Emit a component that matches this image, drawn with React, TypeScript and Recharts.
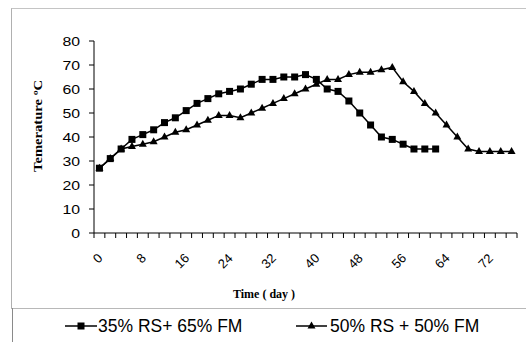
import React from "react";
import { LineChart, Line, XAxis, YAxis, Label } from "recharts";

const days = [0, 2, 4, 6, 8, 10, 12, 14, 16, 18, 20, 22, 24, 26, 28, 30, 32, 34, 36, 38, 40, 42, 44, 46, 48, 50, 52, 54, 56, 58, 60, 62, 64, 66, 68, 70, 72, 74, 76];
const rs35 = [27, 31, 35, 39, 41, 43, 46, 48, 51, 54, 56, 58, 59, 60, 62, 64, 64, 65, 65, 66, 64, 60, 59, 55, 50, 45, 40, 39, 37, 35, 35, 35];
const rs50 = [27, 31, 35, 36, 37, 38, 40, 42, 43, 45, 47, 49, 49, 48, 50, 52, 54, 56, 58, 60, 62, 64, 64, 66, 67, 67, 68, 69, 63, 59, 54, 50, 45, 40, 35, 34, 34, 34, 34];
const labelDays = [0, 8, 16, 24, 32, 40, 48, 56, 64, 72];
const boundaryDays = [-1, 1, 3, 5, 7, 9, 11, 13, 15, 17, 19, 21, 23, 25, 27, 29, 31, 33, 35, 37, 39, 41, 43, 45, 47, 49, 51, 53, 55, 57, 59, 61, 63, 65, 67, 69, 71, 73, 75, 77];
const yTicks = [0, 10, 20, 30, 40, 50, 60, 70, 80];
const name35 = "35% RS+ 65% FM";
const name50 = "50% RS + 50% FM";

const data = days.map((d, i) => ({
  day: d,
  a: i < rs35.length ? rs35[i] : null,
  b: i < rs50.length ? rs50[i] : null,
}));

const xTicks = [...boundaryDays, ...labelDays].sort((p, q) => p - q);

const AX_FONT = "Arial, 'Liberation Sans', sans-serif";
const TITLE_FONT = "'Times New Roman', 'Liberation Serif', serif";

const XTick = (props: any) => {
  const { x, y, payload } = props;
  const v = payload.value;
  if (Math.abs(v % 2) === 1) {
    return <line x1={x} y1={y} x2={x} y2={y + 5} stroke="#000" strokeWidth={1} />;
  }
  return (
    <text
      x={x + 4}
      y={y + 26}
      textAnchor="end"
      transform={`rotate(-45 ${x + 4} ${y + 26})`}
      fontFamily={AX_FONT}
      fontSize={13}
      fill="#000"
    >
      {v}
    </text>
  );
};

const YTick = (props: any) => {
  const { x, y, payload } = props;
  const s = String(payload.value);
  return (
    <text
      x={x}
      y={y}
      dy={4.5}
      textAnchor="end"
      fontFamily={AX_FONT}
      fontSize={13}
      fill="#000"
      textLength={s.length * 8.8}
      lengthAdjust="spacingAndGlyphs"
    >
      {s}
    </text>
  );
};

const SquareDot = (props: any) => {
  const { cx, cy, index } = props;
  if (cx == null || cy == null) return <g key={`s${index}`} />;
  return <rect key={`s${index}`} x={cx - 3.5} y={cy - 3.5} width={7} height={7} fill="#000" />;
};

const TriDot = (props: any) => {
  const { cx, cy, index } = props;
  if (cx == null || cy == null) return <g key={`t${index}`} />;
  return (
    <polygon
      key={`t${index}`}
      points={`${cx},${cy - 4.5} ${cx + 4},${cy + 2.5} ${cx - 4},${cy + 2.5}`}
      fill="#000"
    />
  );
};

const LegendBox = () => (
  <svg width={526} height={36} style={{ position: "absolute", left: 0, top: 308 }}>
    <line x1={65} y1={18} x2={97} y2={18} stroke="#000" strokeWidth={1.5} />
    <rect x={77.5} y={14.5} width={7} height={7} fill="#000" />
    <text x={98} y={24} fontFamily={AX_FONT} fontSize={17.5} fill="#000">{name35}</text>
    <line x1={296} y1={18} x2={327} y2={18} stroke="#000" strokeWidth={1.5} />
    <polygon points="311.5,13.5 315.5,20.5 307.5,20.5" fill="#000" />
    <text x={330} y={24} fontFamily={AX_FONT} fontSize={17.5} fill="#000">{name50}</text>
  </svg>
);

export default function App() {
  return (
    <div style={{ position: "absolute", left: 0, top: 0, width: 526, height: 342, background: "#fff", overflow: "hidden" }}>
      <div style={{ position: "absolute", left: 11, top: 8, width: 600, height: 299, borderTop: "1px solid #c4c4c4", borderLeft: "1px solid #b0b0b0", borderBottom: "1px solid #b8b8b8" }} />
      <div style={{ position: "absolute", left: 12, top: 308, width: 1, height: 40, background: "#8a8a8a" }} />
      <LegendBox />
      <div style={{ position: "absolute", left: 0, top: 0 }}>
        <LineChart width={526} height={342} data={data} margin={{ top: 41, right: 9, left: 0, bottom: 0 }}>
          <XAxis
            dataKey="day"
            type="number"
            domain={[-1, 77]}
            ticks={xTicks}
            interval={0}
            tickLine={false}
            tickSize={0}
            tickMargin={0}
            tick={<XTick />}
            axisLine={{ stroke: "#000", strokeWidth: 1 }}
            height={109}
            allowDataOverflow
          >
            <Label
              content={() => (
                <text x={264} y={298} textAnchor="middle" fontFamily={TITLE_FONT} fontWeight="bold" fontSize={12} fill="#000">
                  Time ( day )
                </text>
              )}
            />
          </XAxis>
          <YAxis
            domain={[0, 80]}
            ticks={yTicks}
            interval={0}
            width={94}
            tickSize={5}
            tickMargin={9}
            tickLine={{ stroke: "#000" }}
            axisLine={{ stroke: "#000", strokeWidth: 1 }}
            tick={<YTick />}
          >
            <Label
              content={() => (
                <text
                  x={42}
                  y={126}
                  textAnchor="middle"
                  transform="rotate(-90 42 126)"
                  fontFamily={TITLE_FONT}
                  fontWeight="bold"
                  fontSize={12}
                  fill="#000"
                  textLength={92}
                  lengthAdjust="spacingAndGlyphs"
                >
                  Temerature ºC
                </text>
              )}
            />
          </YAxis>
          <Line
            type="linear"
            dataKey="a"
            name={name35}
            stroke="#000"
            strokeWidth={1.5}
            dot={SquareDot}
            activeDot={false}
            isAnimationActive={false}
            connectNulls={false}
          />
          <Line
            type="linear"
            dataKey="b"
            name={name50}
            stroke="#000"
            strokeWidth={1.5}
            dot={TriDot}
            activeDot={false}
            isAnimationActive={false}
            connectNulls={false}
          />
        </LineChart>
      </div>
    </div>
  );
}
